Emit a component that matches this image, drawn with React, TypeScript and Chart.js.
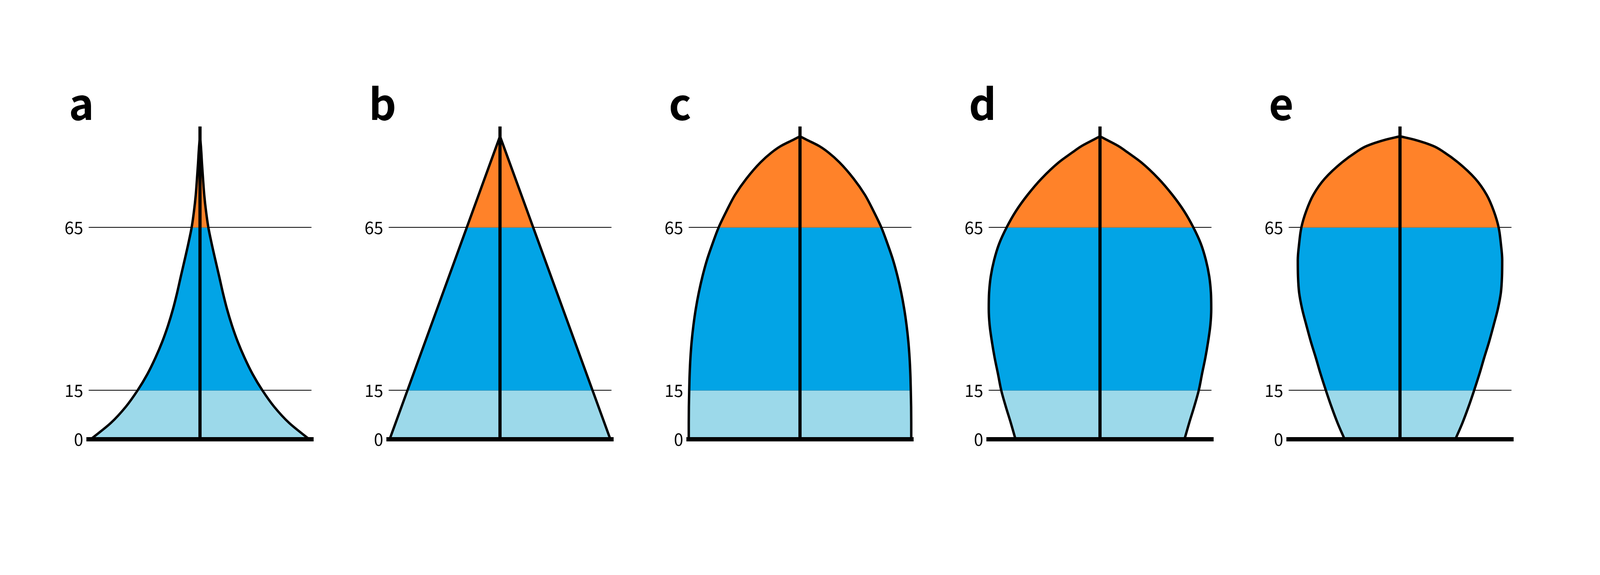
import { useEffect, useRef, useState } from 'react';
import { Chart, registerables } from 'chart.js';

Chart.register(...registerables);

// age bands: 0-15 young, 15-65 working age, 65+ old
const AGE_TICKS = [0, 15, 65];
const BAND_LIMITS = [0, 15, 65, 100];
const BAND_COLORS = ['#9cd9ea', '#02a4e6', '#ff8229'];
const AXIS_TOP = 96;

const AGES = [0, 5, 10, 15, 20, 25, 30, 35, 40, 45, 50, 55, 60, 65, 70, 75, 80, 85, 88, 90, 92, 93];
const AGES_B = [0, 93];

// half-widths of each pyramid (1 = end of the grid line)
const WIDTH_A = [0.98, 0.8, 0.665, 0.56, 0.472, 0.4, 0.338, 0.286, 0.242, 0.205, 0.172, 0.138, 0.105, 0.075, 0.054, 0.038, 0.027, 0.017, 0.012, 0.008, 0.003, 0];
const WIDTH_B = [0.99, 0];
const WIDTH_C = [0.998, 0.998, 0.997, 0.994, 0.99, 0.983, 0.972, 0.956, 0.935, 0.908, 0.875, 0.835, 0.785, 0.73, 0.66, 0.583, 0.481, 0.354, 0.256, 0.172, 0.056, 0];
const WIDTH_D = [0.758, 0.8, 0.845, 0.886, 0.915, 0.945, 0.97, 0.99, 0.998, 0.995, 0.98, 0.95, 0.905, 0.838, 0.755, 0.65, 0.525, 0.37, 0.25, 0.165, 0.055, 0];
const WIDTH_E = [0.497, 0.56, 0.615, 0.665, 0.712, 0.755, 0.8, 0.84, 0.878, 0.905, 0.915, 0.917, 0.905, 0.885, 0.842, 0.778, 0.675, 0.52, 0.4, 0.3, 0.125, 0];

const PANELS = [
  { letter: 'a', ages: AGES, widths: WIDTH_A, curved: true },
  { letter: 'b', ages: AGES_B, widths: WIDTH_B, curved: false },
  { letter: 'c', ages: AGES, widths: WIDTH_C, curved: true },
  { letter: 'd', ages: AGES, widths: WIDTH_D, curved: true },
  { letter: 'e', ages: AGES, widths: WIDTH_E, curved: true },
];

// design size of the figure
const FIG_W = 6000;
const FIG_H = 1472;

interface PanelProps {
  letter: string;
  ages: number[];
  widths: number[];
  curved: boolean;
  sx: number;
  sy: number;
}

function Pyramid({ letter, ages, widths, curved, sx, sy }: PanelProps) {
  const canvasRef = useRef<HTMLCanvasElement>(null);
  const chartRef = useRef<Chart | null>(null);

  useEffect(() => {
    if (!canvasRef.current) return;
    if (chartRef.current) chartRef.current.destroy();

    const s = Math.sqrt(sx * sy);
    const right = ages.map((a, i) => ({ x: widths[i], y: a }));
    const left = ages.map((a, i) => ({ x: -widths[i], y: a }));

    // fills each half between the outline and the centre axis, one band at a time
    const bandFill = {
      id: 'bandFill',
      beforeDatasetsDraw(chart: any) {
        const { ctx, chartArea, scales } = chart;
        const x0 = scales.x.getPixelForValue(0);
        const y0 = scales.y.getPixelForValue(0);
        for (let b = 0; b < BAND_COLORS.length; b++) {
          const top = scales.y.getPixelForValue(BAND_LIMITS[b + 1]);
          const bottom = scales.y.getPixelForValue(BAND_LIMITS[b]);
          ctx.save();
          ctx.beginPath();
          ctx.rect(chartArea.left - 60, top, chartArea.width + 120, bottom - top);
          ctx.clip();
          ctx.fillStyle = BAND_COLORS[b];
          [2, 3].forEach((idx) => {
            const meta = chart.getDatasetMeta(idx);
            const line = meta.dataset;
            line.updateControlPoints(chartArea, meta.iScale.axis);
            ctx.beginPath();
            line.path(ctx);
            ctx.lineTo(x0, y0);
            ctx.closePath();
            ctx.fill();
          });
          ctx.restore();
        }
      },
    };

    const panelLetter = {
      id: 'panelLetter',
      afterDraw(chart: any) {
        const { ctx, chartArea } = chart;
        ctx.save();
        ctx.font = `bold ${132 * s}px "Noto Sans CJK JP"`;
        ctx.fillStyle = '#000';
        ctx.textAlign = 'left';
        ctx.textBaseline = 'alphabetic';
        ctx.fillText(letter, chartArea.left - 74 * sx, chartArea.top + 16 * sy);
        ctx.restore();
      },
    };

    const lineStyle = {
      borderColor: '#000',
      pointRadius: 0,
      fill: false,
      clip: false as const,
      showLine: true,
    };
    const outline = curved ? { cubicInterpolationMode: 'monotone' as const } : { tension: 0 };

    chartRef.current = new Chart(canvasRef.current, {
      type: 'scatter',
      data: {
        datasets: [
          { ...lineStyle, data: [{ x: 0, y: 0 }, { x: 0, y: AXIS_TOP }], borderWidth: 12 * sx },
          { ...lineStyle, data: [{ x: -1, y: 0 }, { x: 1, y: 0 }], borderWidth: 11 * sy, borderCapStyle: 'square' },
          { ...lineStyle, ...outline, data: right, borderWidth: 7.5 * s },
          { ...lineStyle, ...outline, data: left, borderWidth: 7.5 * s },
        ],
      },
      options: {
        indexAxis: 'y',
        responsive: true,
        maintainAspectRatio: false,
        animation: false,
        events: [],
        layout: { padding: { top: 290.5 * sy, bottom: 347.5 * sy, left: 0, right: 144.5 * sx } },
        plugins: {
          legend: { display: false },
          tooltip: { enabled: false },
        },
        scales: {
          x: { type: 'linear', min: -1, max: 1, display: false },
          y: {
            type: 'linear',
            position: 'left',
            min: 0,
            max: 100,
            z: 1,
            afterBuildTicks: (scale: any) => {
              scale.ticks = AGE_TICKS.map((v) => ({ value: v }));
            },
            afterFit: (scale: any) => {
              scale.width = 144.5 * sx;
            },
            ticks: {
              color: '#000',
              padding: 20 * sx,
              font: { family: '"Noto Sans CJK JP"', size: 52 * s },
            },
            grid: { color: '#000', lineWidth: 2 * sy, drawTicks: false },
            border: { display: false },
          },
        },
      },
      plugins: [bandFill, panelLetter],
    });

    return () => {
      if (chartRef.current) chartRef.current.destroy();
      chartRef.current = null;
    };
  }, [letter, ages, widths, curved, sx, sy]);

  return (
    <div style={{ width: `${1125 * sx}px`, height: `${FIG_H * sy}px`, position: 'relative', flex: 'none' }}>
      <canvas ref={canvasRef} />
    </div>
  );
}

export default function App() {
  const [view, setView] = useState({ w: window.innerWidth || FIG_W, h: window.innerHeight || FIG_H });

  useEffect(() => {
    const onResize = () => setView({ w: window.innerWidth || FIG_W, h: window.innerHeight || FIG_H });
    window.addEventListener('resize', onResize);
    return () => window.removeEventListener('resize', onResize);
  }, []);

  const sx = view.w / FIG_W;
  const sy = view.h / FIG_H;

  return (
    <div
      style={{
        position: 'absolute',
        left: 0,
        top: 0,
        width: `${view.w}px`,
        height: `${view.h}px`,
        paddingLeft: `${187.5 * sx}px`,
        boxSizing: 'border-box',
        display: 'flex',
        background: '#fff',
        overflow: 'hidden',
      }}
    >
      {PANELS.map((p) => (
        <Pyramid key={p.letter} {...p} sx={sx} sy={sy} />
      ))}
    </div>
  );
}
